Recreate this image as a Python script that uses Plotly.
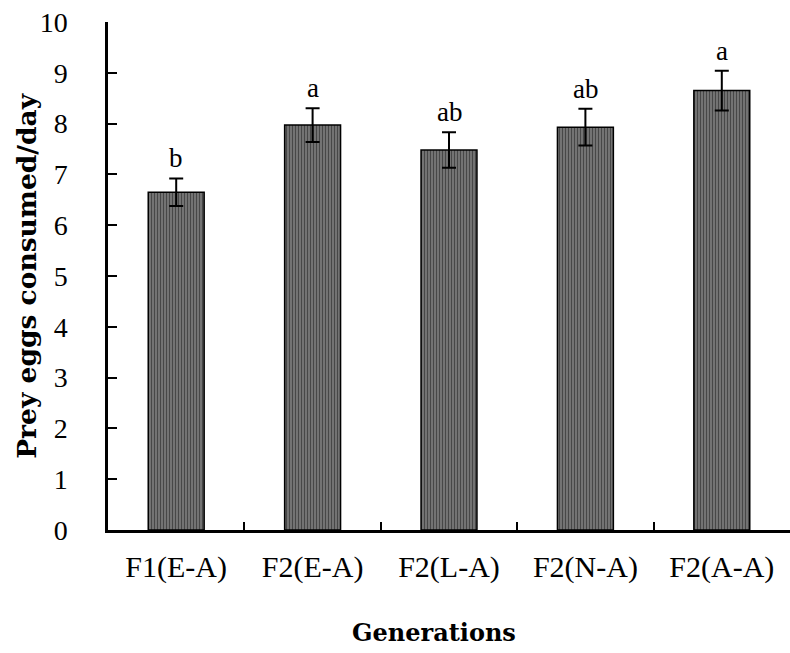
import plotly.graph_objects as go

categories = ["F1(E-A)", "F2(E-A)", "F2(L-A)", "F2(N-A)", "F2(A-A)"]
means = [6.65, 7.97, 7.48, 7.93, 8.65]
errors = [0.27, 0.33, 0.35, 0.36, 0.39]
letters = ["b", "a", "ab", "ab", "a"]
y_ticks = list(range(0, 11))

fig = go.Figure()
fig.add_trace(go.Bar(
    x=categories, y=means, width=0.41,
    marker=dict(
        color="#7a7a7a",
        line=dict(color="black", width=1.5),
        pattern=dict(shape="|", fgcolor="#111111", bgcolor="#7c7c7c", size=3, solidity=0.45),
    ),
    error_y=dict(type="data", array=errors, visible=True, color="black", thickness=2, width=7),
    showlegend=False,
))

for c, m, e, l in zip(categories, means, errors, letters):
    fig.add_annotation(x=c, y=m + e, text=l, showarrow=False, yanchor="bottom", yshift=3,
                       font=dict(family="Liberation Serif", size=27, color="black"))

fig.add_annotation(xref="paper", yref="paper", x=-0.119, y=0.502, text="<b>Prey eggs consumed/day</b>",
                   textangle=-90, showarrow=False, xanchor="center", yanchor="middle",
                   font=dict(family="DejaVu Serif", size=26.5, color="black"))
fig.add_annotation(xref="paper", yref="paper", x=0.478, y=-0.201, text="<b>Generations</b>",
                   showarrow=False, xanchor="center", yanchor="middle",
                   font=dict(family="DejaVu Serif", size=24, color="black"))

fig.update_layout(
    width=790, height=653,
    margin=dict(l=108, r=0, t=22, b=123),
    paper_bgcolor="white", plot_bgcolor="white",
    font=dict(family="Liberation Serif", color="black"),
)
fig.update_xaxes(
    showline=True, linecolor="black", linewidth=2.5,
    ticks="inside", tickson="boundaries", ticklen=8, tickwidth=2, tickcolor="black",
    tickfont=dict(family="Liberation Serif", size=30, color="black"),
    ticklabelstandoff=8, showgrid=False, zeroline=False,
)
fig.update_yaxes(
    range=[0, 10], tickvals=y_ticks, ticktext=[str(v) for v in y_ticks],
    showline=True, linecolor="black", linewidth=2.5,
    ticks="inside", ticklen=9, tickwidth=2, tickcolor="black",
    tickfont=dict(family="Liberation Serif", size=28, color="black"),
    ticklabelstandoff=32, showgrid=False, zeroline=False,
)

fig.write_html("out.html")
